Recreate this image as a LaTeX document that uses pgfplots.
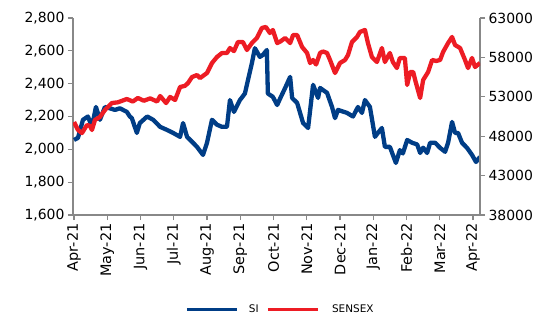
\documentclass[border=0pt]{standalone}
\usepackage{pgfplots}
\pgfplotsset{compat=1.18}
\usepackage{fontspec}
\setmainfont{DejaVu Sans}
\definecolor{siblue}{RGB}{0,61,134}
\definecolor{sxred}{RGB}{237,28,36}
\definecolor{axgray}{RGB}{136,136,136}
\begin{document}
\begin{tikzpicture}
\path[use as bounding box] (-73bp,-105bp) rectangle (472bp,215bp);
\begin{axis}[
  scale only axis, width=407bp, height=197bp,
  xmin=-0.03, xmax=12.21,
  ymin=1600, ymax=2800, ytick={1600,1800,...,2800},
  axis y line*=left, axis x line*=bottom,
  axis line style={axgray, line width=1.3pt, -},
  tick style={axgray, line width=1.3pt},
  tick align=outside, major tick length=5bp,
  xtick={0,...,12},
  xticklabels={Apr-21,May-21,Jun-21,Jul-21,Aug-21,Sep-21,Oct-21,Nov-21,Dec-21,Jan-22,Feb-22,Mar-22,Apr-22},
  xticklabel style={rotate=90, anchor=east, font=\fontsize{14.5}{16}\selectfont},
  yticklabel style={font=\fontsize{14}{16}\selectfont},
  /pgf/number format/assume math mode=true,
  /pgf/number format/1000 sep={,},
  scaled y ticks=false,
]
\addplot[siblue, line width=4.3bp, line join=round] coordinates {
(0,2057)(0.12,2070)(0.27,2180)(0.42,2200)(0.54,2137)(0.66,2258)(0.78,2180)(0.93,2258)
(1.08,2250)(1.23,2240)(1.38,2250)(1.59,2228)(1.68,2200)(1.74,2190)(1.89,2100)(1.98,2160)
(2.20,2200)(2.38,2180)(2.59,2137)(2.80,2118)(2.98,2100)(3.19,2076)(3.28,2160)(3.40,2076)
(3.58,2040)(3.70,2015)(3.88,1966)(4.00,2040)(4.15,2180)(4.30,2150)(4.45,2137)(4.60,2137)
(4.69,2300)(4.81,2228)(4.99,2300)(5.14,2340)(5.23,2420)(5.35,2525)(5.44,2616)(5.59,2563)
(5.68,2575)(5.80,2605)(5.83,2340)(5.98,2320)(6.11,2270)(6.20,2310)(6.35,2374)(6.50,2441)
(6.56,2313)(6.71,2283)(6.89,2160)(7.04,2130)(7.19,2393)(7.34,2313)(7.40,2374)(7.61,2344)
(7.76,2258)(7.85,2190)(7.94,2240)(8.21,2222)(8.39,2200)(8.54,2258)(8.66,2222)(8.75,2300)
(8.90,2258)(9.05,2076)(9.14,2100)(9.26,2130)(9.35,2015)(9.50,2015)(9.68,1917)(9.80,1995)
(9.89,1975)(10.02,2057)(10.17,2040)(10.32,2030)(10.41,1978)(10.50,2010)(10.62,1978)
(10.71,2040)(10.86,2040)(11.01,2009)(11.16,1985)(11.25,2040)(11.37,2167)(11.46,2100)
(11.55,2100)(11.67,2040)(11.82,2009)(11.97,1966)(12.09,1923)(12.21,1954)
};
\end{axis}
\begin{axis}[
  scale only axis, width=407bp, height=197bp,
  xmin=-0.03, xmax=12.21,
  ymin=38000, ymax=63000, ytick={38000,43000,...,63000},
  axis y line*=right, axis x line=none,
  axis line style={axgray, line width=1.3pt, -},
  tick style={axgray, line width=1.3pt},
  tick align=outside, major tick length=5bp,
  yticklabel style={font=\fontsize{14}{16}\selectfont},
  /pgf/number format/assume math mode=true,
  /pgf/number format/1000 sep={},
  scaled y ticks=false,
  legend style={at={(0.51,-0.48)}, anchor=center, draw=none, fill=none,
    legend columns=2, font=\fontsize{10.5}{12}\selectfont,
    /tikz/every even column/.append style={column sep=6bp}},
  legend image code/.code={\draw[#1, line width=2.4pt] (0bp,0bp) -- (50bp,0bp); \path (60bp,0bp);},
]
\addlegendimage{siblue}
\addlegendentry{SI}
\addplot[sxred, line width=4.3bp, line join=round] coordinates {
(0,49800)(0.12,48790)(0.24,48400)(0.39,49420)(0.48,49300)(0.54,48790)(0.63,50060)(0.78,50440)
(0.93,51320)(1.14,52210)(1.32,52300)(1.59,52720)(1.77,52400)(1.92,52850)(2.10,52500)(2.29,52800)
(2.50,52400)(2.59,53100)(2.77,52210)(2.89,52980)(3.04,52600)(3.19,54240)(3.34,54400)(3.43,54750)
(3.55,55510)(3.70,55760)(3.79,55380)(4.00,56020)(4.15,57290)(4.30,58050)(4.45,58560)(4.60,58560)
(4.69,59190)(4.81,58800)(4.93,59950)(5.08,59950)(5.20,58940)(5.35,59820)(5.50,60460)(5.65,61730)
(5.77,61860)(5.89,61100)(5.98,61480)(6.11,59820)(6.20,60000)(6.35,60460)(6.50,59820)(6.59,60840)
(6.71,60840)(6.86,59320)(7.01,58560)(7.10,57290)(7.19,57670)(7.28,57100)(7.40,58560)(7.49,58750)
(7.61,58560)(7.70,57670)(7.85,56020)(8.00,57290)(8.15,57670)(8.24,58300)(8.36,59950)(8.51,60590)
(8.60,61230)(8.75,61480)(8.84,59820)(8.96,58050)(9.11,57420)(9.26,59190)(9.35,57420)(9.50,58560)
(9.59,57420)(9.71,56650)(9.80,57930)(9.95,57930)(10.02,54500)(10.11,56150)(10.20,56150)(10.26,55130)
(10.41,52850)(10.50,55130)(10.65,56150)(10.77,57670)(10.89,57550)(11.01,57670)(11.10,58690)(11.25,59820)
(11.37,60590)(11.46,59570)(11.61,59190)(11.76,57670)(11.85,56650)(11.97,57930)(12.06,56780)(12.21,57290)
};
\addlegendentry{SENSEX}
\end{axis}
\end{tikzpicture}
\end{document}
